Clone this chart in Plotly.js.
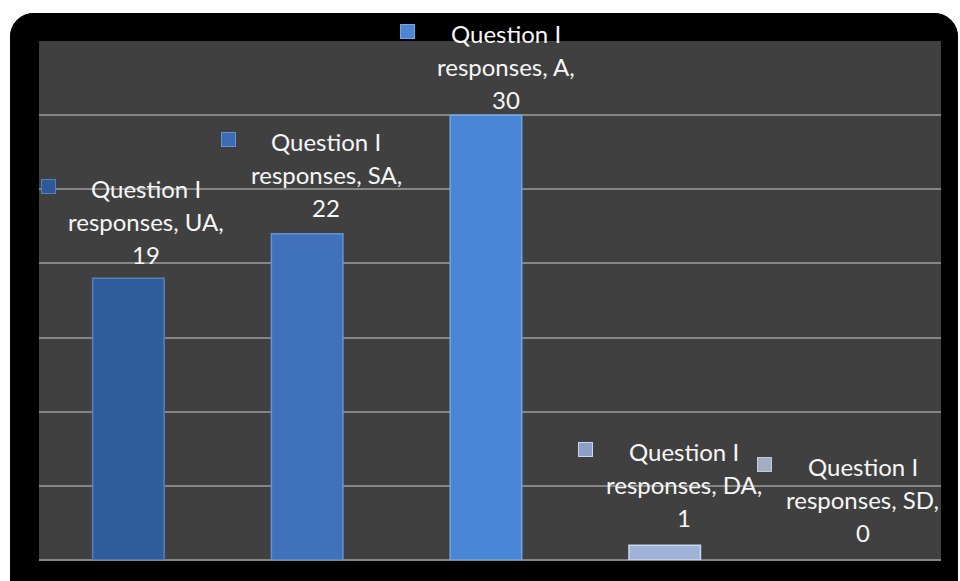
<!DOCTYPE html>
<html>
<head>
<meta charset="utf-8">
<script src="https://cdn.plot.ly/plotly-3.0.1.min.js"></script>
<style>
  html, body { margin: 0; padding: 0; background: #ffffff; width: 960px; height: 581px; overflow: hidden; }
  #frame { position: absolute; left: 10px; top: 13px; width: 948px; height: 568px; border-radius: 24px 24px 0 0; overflow: hidden; background: #000; }
  #chart { width: 948px; height: 568px; }
</style>
</head>
<body>
<div id="frame"><div id="chart"></div></div>
<script>
// ---- data ----
const categories = ['UA', 'SA', 'A', 'DA', 'SD'];
const values = [19, 22, 30, 1, 0];
const seriesLabel = ['Question I', 'responses'];

// ---- styling ----
const barColors = ['#2f5c9b', '#3f72bb', '#4a86d6', '#9fb3d8', '#a8b4c8'];
const barEdge = ['#5580bd', '#6492d4', '#70a6ec', '#c8d6ef', '#c4cbd8'];
const iconColors = ['#2e5b98', '#3b6db3', '#4a86d2', '#8b9fc4', '#a3adc3'];
// label offsets (pixels): horizontal shift, and distance of last line above bar top
const labelDx = [18, 19, 20, 19, 19];
const labelDy = [24, 26, 16, 28, 28];
const lineGap = 33;
const iconDx = -98;

const annotations = [];
categories.forEach((c, i) => {
  const lines = [seriesLabel[0], seriesLabel[1] + ', ' + c + ',', String(values[i])];
  lines.forEach((t, k) => {
    annotations.push({
      x: c, y: values[i], xref: 'x', yref: 'y',
      text: t, showarrow: false,
      xanchor: 'center', yanchor: 'middle',
      xshift: labelDx[i], yshift: labelDy[i] + (2 - k) * lineGap,
      font: { family: 'Lato, sans-serif', size: 24, color: '#f6f6f6' }
    });
  });
  annotations.push({
    x: c, y: values[i], xref: 'x', yref: 'y',
    text: ' ', showarrow: false,
    xanchor: 'center', yanchor: 'middle',
    xshift: labelDx[i] + iconDx, yshift: labelDy[i] + 2 * lineGap + 2,
    width: 13, height: 13, borderpad: 0,
    bgcolor: iconColors[i], bordercolor: barEdge[i], borderwidth: 1,
    font: { size: 6 }
  });
});

const trace = {
  type: 'bar',
  x: categories,
  y: values,
  marker: {
    color: barColors,
    line: { color: barEdge, width: values.map(v => (v > 0 ? 1.5 : 0)) }
  },
  hoverinfo: 'x+y'
};

const layout = {
  width: 948, height: 568,
  margin: { l: 29, r: 17, t: 28, b: 21 },
  paper_bgcolor: '#000000',
  plot_bgcolor: '#404040',
  bargap: 0.6,
  showlegend: false,
  xaxis: { showticklabels: false, showgrid: false, zeroline: false, showline: false, ticks: '' },
  yaxis: {
    range: [0, 35], tick0: 0, dtick: 5,
    showticklabels: false, ticks: '',
    showgrid: true, gridcolor: '#858585', gridwidth: 2,
    zeroline: true, zerolinecolor: '#858585', zerolinewidth: 2,
    showline: false
  },
  annotations: annotations
};

Plotly.newPlot('chart', [trace], layout, { displayModeBar: false, staticPlot: true });
</script>
</body>
</html>
